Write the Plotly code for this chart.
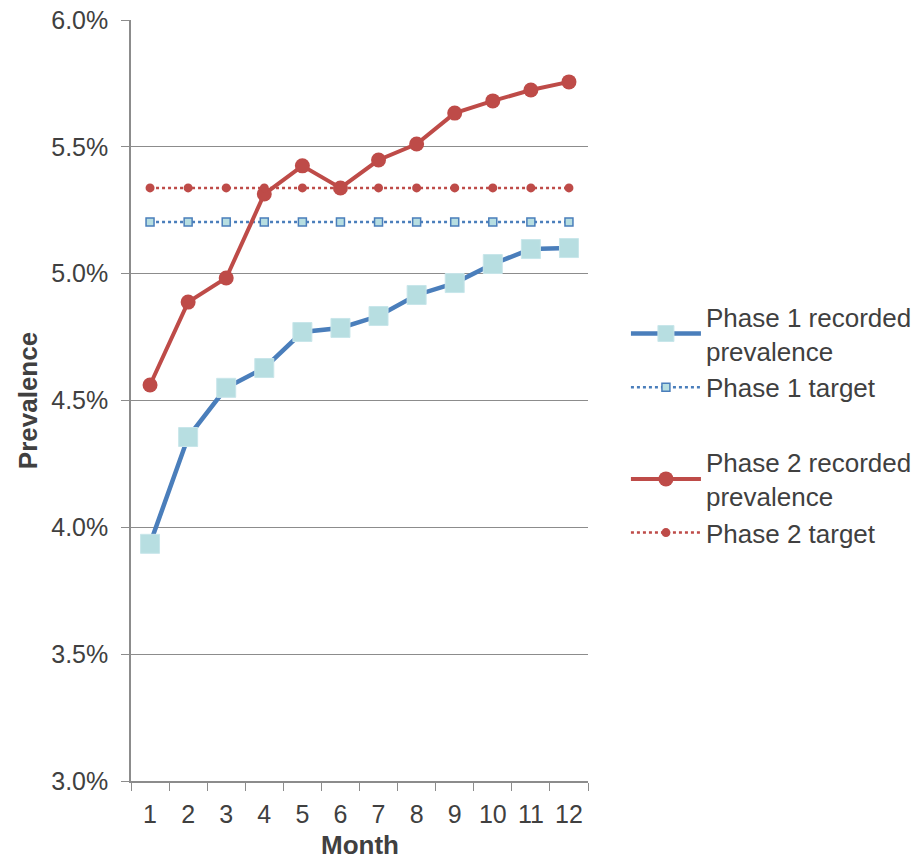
import plotly.graph_objects as go

# Monthly prevalence (%) for each phase, and the target level for each
months = ["1", "2", "3", "4", "5", "6", "7", "8", "9", "10", "11", "12"]
phase1_recorded = [3.935, 4.356, 4.55, 4.628, 4.77, 4.786, 4.833, 4.916, 4.963, 5.038, 5.097, 5.101]
phase2_recorded = [4.561, 4.888, 4.983, 5.314, 5.425, 5.338, 5.448, 5.511, 5.633, 5.681, 5.724, 5.756]
phase1_target = [5.204] * 12
phase2_target = [5.338] * 12
y_ticks = [3.0, 3.5, 4.0, 4.5, 5.0, 5.5, 6.0]
y_tick_labels = ["3.0%", "3.5%", "4.0%", "4.5%", "5.0%", "5.5%", "6.0%"]

BLUE = "#4A7EBB"
RED = "#BE4B48"
LIGHT = "#B7DEE1"
FONT = "Liberation Sans, Arial, sans-serif"
TEXT = "#404040"
AXIS = "#8C8C8C"

fig = go.Figure()

fig.add_trace(go.Scatter(
    x=months, y=phase1_recorded, name="Phase 1 recorded<br>prevalence",
    mode="lines+markers", legendgroup="p1",
    line=dict(color=BLUE, width=4.5),
    marker=dict(symbol="square", size=19, color=LIGHT, line=dict(color="#C8E6EA", width=1)),
))
fig.add_trace(go.Scatter(
    x=months, y=phase1_target, name="Phase 1 target",
    mode="lines+markers", legendgroup="p1",
    line=dict(color=BLUE, width=2.5, dash="dot"),
    marker=dict(symbol="square", size=8, color=LIGHT, line=dict(color=BLUE, width=1.5)),
))
fig.add_trace(go.Scatter(
    x=months, y=phase2_recorded, name="Phase 2 recorded<br>prevalence",
    mode="lines+markers", legendgroup="p2",
    line=dict(color=RED, width=4),
    marker=dict(symbol="circle", size=15, color=RED),
))
fig.add_trace(go.Scatter(
    x=months, y=phase2_target, name="Phase 2 target",
    mode="lines+markers", legendgroup="p2",
    line=dict(color=RED, width=2.5, dash="dot"),
    marker=dict(symbol="circle", size=9, color=RED),
))

fig.update_layout(
    width=921, height=862,
    margin=dict(l=131, r=333, t=20, b=81, autoexpand=False),
    paper_bgcolor="white", plot_bgcolor="white",
    font=dict(family=FONT, size=26, color=TEXT),
    showlegend=True,
    legend=dict(
        x=1.083, xanchor="left", y=0.641, yanchor="top",
        font=dict(family=FONT, size=26, color=TEXT),
        tracegroupgap=38, itemwidth=70,
        bgcolor="rgba(0,0,0,0)",
    ),
    xaxis=dict(
        type="category", tickson="boundaries", ticks="outside", ticklen=8,
        tickcolor=AXIS, linecolor=AXIS, linewidth=1.5, showline=True,
        showgrid=False, range=[-0.5, 11.5], automargin=False,
        ticklabelstandoff=10,
        tickfont=dict(family=FONT, size=25, color=TEXT),
    ),
    yaxis=dict(
        range=[3.0, 6.0], tickvals=y_ticks, ticktext=y_tick_labels,
        ticks="outside", ticklen=8, tickcolor=AXIS, automargin=False,
        ticklabelstandoff=8,
        showline=True, linecolor=AXIS, linewidth=1.5,
        showgrid=True, gridcolor=AXIS, gridwidth=1.2, zeroline=False,
        title=dict(text="<b>Prevalence</b>", font=dict(family=FONT, size=26, color=TEXT), standoff=6),
        tickfont=dict(family=FONT, size=25, color=TEXT),
    ),
)

# x-axis title placed just below the month labels
fig.add_annotation(
    text="<b>Month</b>", xref="paper", yref="paper", x=0.5, y=-0.084,
    xanchor="center", yanchor="middle", showarrow=False,
    font=dict(family=FONT, size=26, color=TEXT),
)

fig.write_html("out.html")
